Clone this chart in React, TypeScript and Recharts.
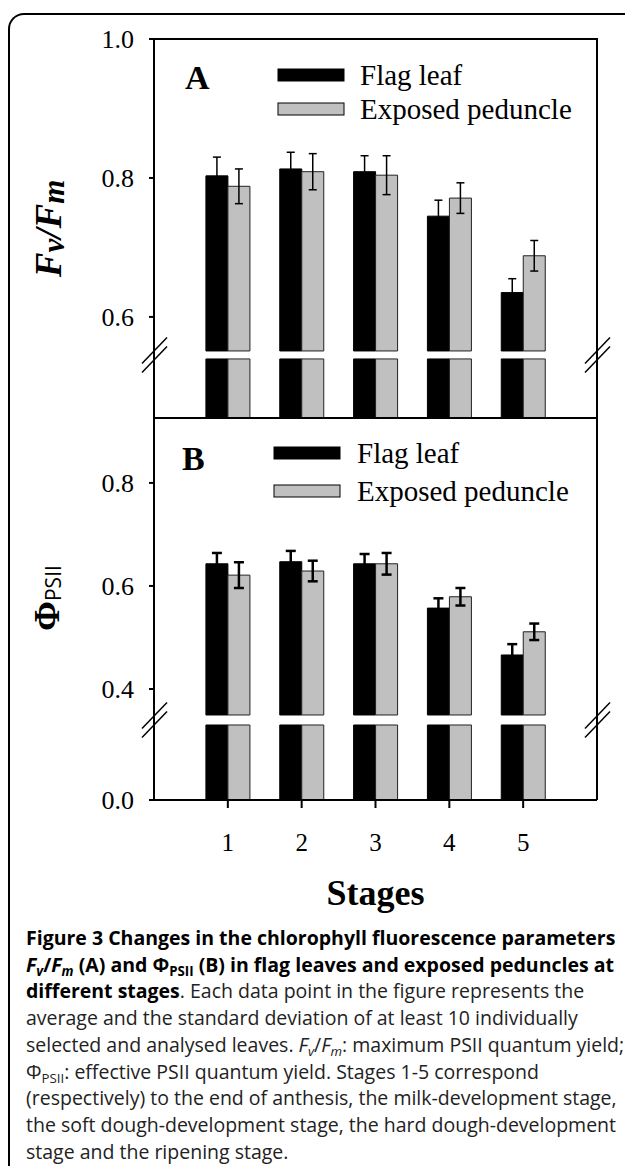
import React from 'react';
import { BarChart, Bar, XAxis, YAxis, ErrorBar, Legend, ReferenceLine } from 'recharts';

const stages = [1, 2, 3, 4, 5];
const stageLabels = ['1', '2', '3', '4', '5'];
const seriesNames = ['Flag leaf', 'Exposed peduncle'];

// Fv/Fm (panel A)
const fvfmFlag = [0.803, 0.813, 0.809, 0.745, 0.635];
const fvfmFlagErr = [0.027, 0.024, 0.023, 0.023, 0.02];
const fvfmPed = [0.788, 0.809, 0.804, 0.771, 0.688];
const fvfmPedErr = [0.025, 0.026, 0.028, 0.022, 0.022];

// PhiPSII (panel B)
const phiFlag = [0.643, 0.647, 0.643, 0.557, 0.466];
const phiFlagErr = [0.021, 0.021, 0.019, 0.019, 0.021];
const phiPed = [0.621, 0.629, 0.643, 0.579, 0.511];
const phiPedErr = [0.025, 0.02, 0.021, 0.017, 0.016];

const fvfmTicks = [0, 0.6, 0.8, 1.0];
const phiTicks = [0, 0.4, 0.6, 0.8];

const SERIF = '"Liberation Serif", "Times New Roman", serif';
const SANS = '"Open Sans", "Noto Sans", sans-serif';
const fills = ['#000000', '#c0c0c0'];
const strokes = ['#000000', '#222222'];

// axis break: bars are cut at `cut`, a gap, then a short stub down to 0
type Brk = { cut: number; gap: number; stub: number; top: number };
const fvfmBreak: Brk = { cut: 0.551, gap: 0.0115, stub: 0.085, top: 1.0 };
const phiBreak: Brk = { cut: 0.3495, gap: 0.0194, stub: 0.1456, top: 0.926 };

const toDisplay = (v: number, b: Brk) => (v <= 0 ? 0 : v - (b.cut - b.stub - b.gap));

const buildRows = (flag: number[], flagErr: number[], ped: number[], pedErr: number[], b: Brk) =>
  stages.map((stage, i) => ({
    stage,
    stub: b.stub,
    gap: b.gap,
    flagTop: flag[i] - b.cut,
    pedTop: ped[i] - b.cut,
    flagErr: flagErr[i],
    pedErr: pedErr[i],
  }));

const fvfmRows = buildRows(fvfmFlag, fvfmFlagErr, fvfmPed, fvfmPedErr, fvfmBreak);
const phiRows = buildRows(phiFlag, phiFlagErr, phiPed, phiPedErr, phiBreak);

const axisStyle = { stroke: '#000', strokeWidth: 2 };
const tickText = { fill: '#000', fontFamily: SERIF, fontSize: 26 };

const tickLabeller = (ticks: number[], b: Brk) => (d: number) => {
  const i = ticks.findIndex((t) => Math.abs(toDisplay(t, b) - d) < 1e-6);
  return i >= 0 ? ticks[i].toFixed(1) : '';
};

const BreakMarks = (props: any) => {
  const { x1, x2, y1 } = props;
  const y = y1;
  const slash = (x: number, dy: number) => (
    <line x1={x - 12} y1={y + dy + 13} x2={x + 13} y2={y + dy - 13} stroke="#000" strokeWidth={1.5} />
  );
  return (
    <g>
      {[x1, x2].map((x: number, i: number) => (
        <g key={i}>
          <rect x={x - 3} y={y - 4.5} width={6} height={9} fill="#fff" />
          {slash(x, -4.5)}
          {slash(x, 4.5)}
        </g>
      ))}
    </g>
  );
};

const fvfmTitle = (p: any) => {
  const vb = p.viewBox;
  const cx = vb.x + 40;
  const cy = vb.y + vb.height / 2;
  return (
    <text
      transform={`rotate(-90 ${cx} ${cy})`}
      x={cx}
      y={cy}
      textAnchor="middle"
      dominantBaseline="central"
      fontFamily={SERIF}
      fontWeight="bold"
      fontStyle="italic"
      fontSize={37}
    >
      <tspan>F</tspan>
      <tspan fontSize={31} dy={5}>v</tspan>
      <tspan dy={-5}>/F</tspan>
      <tspan fontSize={31} dy={5}>m</tspan>
    </text>
  );
};

const phiTitle = (p: any) => {
  const vb = p.viewBox;
  const cx = vb.x + 39;
  const cy = vb.y + vb.height / 2 - 11;
  return (
    <text
      transform={`rotate(-90 ${cx} ${cy})`}
      x={cx}
      y={cy}
      textAnchor="middle"
      dominantBaseline="central"
    >
      <tspan fontFamily={SERIF} fontWeight="bold" fontSize={36}>Φ</tspan>
      <tspan fontFamily={SANS} fontSize={21} dy={6}>PSII</tspan>
    </text>
  );
};

const PAD = 14;
const legendContent = (letter: string, rowGap: number, swatchX: number, textX: number, letterX: number, letterY: number) =>
  () => (
    <svg width={430} height={110} style={{ display: 'block', overflow: 'visible' }}>
      <text x={letterX} y={letterY + PAD} fontFamily={SERIF} fontWeight="bold" fontSize={34}>
        {letter}
      </text>
      {seriesNames.map((name, i) => (
        <g key={name}>
          <rect x={swatchX} y={PAD + 6 + i * rowGap} width={66} height={12} fill={fills[i]} stroke="#000" strokeWidth={1} />
          <text x={textX} y={PAD + 12 + i * rowGap} dominantBaseline="central" fontFamily={SERIF} fontSize={29}>
            {name}
          </text>
        </g>
      ))}
    </svg>
  );

const stackBars = (errWidth: number, errStroke: number) =>
  ['flag', 'ped'].map((id, i) => (
    <React.Fragment key={id}>
      <Bar dataKey="stub" stackId={id} fill={fills[i]} stroke={strokes[i]} strokeWidth={1} isAnimationActive={false} legendType="none" />
      <Bar dataKey="gap" stackId={id} fill="none" stroke="none" isAnimationActive={false} legendType="none" />
      <Bar dataKey={id + 'Top'} name={seriesNames[i]} stackId={id} fill={fills[i]} stroke={strokes[i]} strokeWidth={1} isAnimationActive={false}>
        <ErrorBar dataKey={id + 'Err'} width={errWidth} strokeWidth={errStroke} stroke="#000" direction="y" />
      </Bar>
    </React.Fragment>
  ));

const Sub = ({ children }: { children: React.ReactNode }) => (
  <sub style={{ fontSize: '0.68em', verticalAlign: '-0.3em', lineHeight: 0 }}>{children}</sub>
);

export default function App() {
  return (
    <div style={{ position: 'relative', width: 625, height: 1166, overflow: 'hidden' }}>
      <style>{'body{margin:0}'}</style>
      <div style={{ position: 'absolute', left: 8, top: 8, width: 617, height: 1158 }}>
        <div
          style={{
            position: 'absolute',
            left: 0,
            top: 5,
            width: 640,
            height: 1200,
            borderLeft: '2px solid #000',
            borderTop: '2px solid #000',
            borderTopLeftRadius: 16,
            boxSizing: 'border-box',
          }}
        />
        <div style={{ position: 'absolute', left: 0, top: 0 }}>
          <BarChart width={609} height={420} data={fvfmRows} margin={{ top: 31, right: 0, bottom: 9, left: 0 }} barGap={0} barSize={22}>
            <XAxis type="number" dataKey="stage" domain={[0, 6]} height={1} tick={false} tickLine={false} axisLine={axisStyle} />
            <YAxis
              type="number"
              domain={[0, toDisplay(fvfmBreak.top, fvfmBreak)]}
              ticks={fvfmTicks.map((t) => toDisplay(t, fvfmBreak))}
              tickFormatter={tickLabeller(fvfmTicks, fvfmBreak)}
              width={146}
              tickSize={5}
              tickMargin={15}
              tick={tickText}
              axisLine={axisStyle}
              tickLine={axisStyle}
              label={fvfmTitle}
            />
            <YAxis yAxisId="r" orientation="right" type="number" domain={[0, 1]} width={20} tick={false} tickLine={false} axisLine={axisStyle} />
            {stackBars(4, 1.5)}
            <ReferenceLine y={fvfmBreak.stub + fvfmBreak.gap / 2} stroke="none" shape={BreakMarks} />
            <Legend
              layout="horizontal"
              verticalAlign="middle"
              align="center"
              wrapperStyle={{ left: 170, top: 55 - PAD, width: 430, height: 110 }}
              content={legendContent('A', 34, 100, 182, 7, 26)}
            />
          </BarChart>
        </div>
        {/* top edge of panel A box */}
        <div style={{ position: 'absolute', left: 145, top: 30, width: 445, height: 0, borderTop: '2px solid #000' }} />
        <div style={{ position: 'absolute', left: 0, top: 400 }}>
          <BarChart width={609} height={507} data={phiRows} margin={{ top: 10, right: 0, bottom: 0, left: 0 }} barGap={0} barSize={22}>
            <XAxis
              type="number"
              dataKey="stage"
              domain={[0, 6]}
              ticks={stages}
              interval={0}
              tickFormatter={(v: number) => stageLabels[stages.indexOf(v)]}
              height={115}
              tickSize={8}
              tickMargin={25}
              tick={{ ...tickText, fontSize: 25 }}
              axisLine={axisStyle}
              tickLine={axisStyle}
              label={{ value: 'Stages', position: 'insideBottom', offset: 10, fill: '#000', fontFamily: SERIF, fontWeight: 'bold', fontSize: 36 }}
            />
            <YAxis
              type="number"
              domain={[0, toDisplay(phiBreak.top, phiBreak)]}
              ticks={phiTicks.map((t) => toDisplay(t, phiBreak))}
              tickFormatter={tickLabeller(phiTicks, phiBreak)}
              width={146}
              tickSize={5}
              tickMargin={15}
              tick={tickText}
              axisLine={axisStyle}
              tickLine={axisStyle}
              label={phiTitle}
            />
            <YAxis yAxisId="r" orientation="right" type="number" domain={[0, 1]} width={20} tick={false} tickLine={false} axisLine={axisStyle} />
            {stackBars(5, 2.5)}
            <ReferenceLine y={phiBreak.stub + phiBreak.gap / 2} stroke="none" shape={BreakMarks} />
            <Legend
              layout="horizontal"
              verticalAlign="middle"
              align="center"
              wrapperStyle={{ left: 170, top: 33 - PAD, width: 430, height: 110 }}
              content={legendContent('B', 38, 96, 179, 4, 29)}
            />
          </BarChart>
        </div>
        <div
          style={{
            position: 'absolute',
            left: 18,
            top: 917,
            fontFamily: SANS,
            fontSize: 19.5,
            lineHeight: '26.7px',
            color: '#222',
            whiteSpace: 'nowrap',
          }}
        >
          <b style={{ color: '#000' }}>Figure 3 Changes in the chlorophyll fluorescence parameters</b>
          <br />
          <b style={{ color: '#000' }}>
            <i>F</i>
            <Sub><i>v</i></Sub>/<i>F</i>
            <Sub><i>m</i></Sub> (A) and Φ<Sub>PSII</Sub> (B) in flag leaves and exposed peduncles at
          </b>
          <br />
          <b style={{ color: '#000' }}>different stages</b>. Each data point in the figure represents the
          <br />
          average and the standard deviation of at least 10 individually
          <br />
          selected and analysed leaves. <i>F</i>
          <Sub><i>v</i></Sub>/<i>F</i>
          <Sub><i>m</i></Sub>: maximum PSII quantum yield;
          <br />
          Φ<Sub>PSII</Sub>: effective PSII quantum yield. Stages 1-5 correspond
          <br />
          (respectively) to the end of anthesis, the milk-development stage,
          <br />
          the soft dough-development stage, the hard dough-development
          <br />
          stage and the ripening stage.
        </div>
      </div>
    </div>
  );
}
